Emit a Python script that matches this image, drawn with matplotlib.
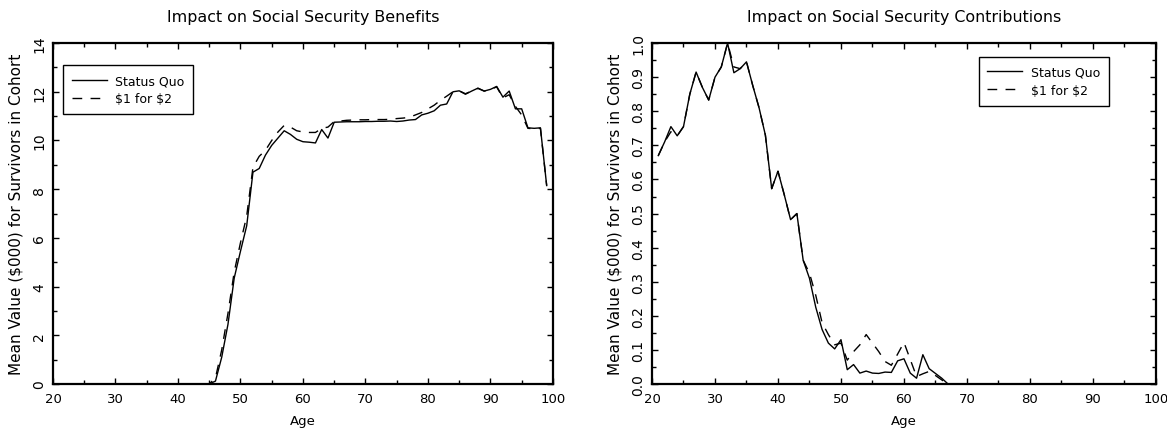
import numpy as np
import matplotlib
matplotlib.use("Agg")
import matplotlib.pyplot as plt
from matplotlib.ticker import MultipleLocator

# mean values ($000) per surviving member of each birth cohort, ages 21..99
ages = np.arange(21, 100)

benefits_sq = [0.0] * 24 + [
    0.0, 0.12, 1.1, 2.45, 4.35, 5.45, 6.5, 8.7, 8.85, 9.4,          # 45-54
    9.8, 10.1, 10.4, 10.25, 10.05, 9.95, 9.93, 9.9, 10.45, 10.1,    # 55-64
    10.75, 10.76, 10.77, 10.77, 10.77, 10.78, 10.78, 10.79, 10.79, 10.8,  # 65-74
    10.78, 10.8, 10.84, 10.86, 11.05, 11.12, 11.22, 11.45, 11.5, 12.0,    # 75-84
    12.04, 11.9, 12.03, 12.15, 12.03, 12.1, 12.22, 11.78, 12.03, 11.3,    # 85-94
    11.3, 10.52, 10.5, 10.52, 8.15,                                  # 95-99
]
benefits_alt = [0.0] * 24 + [
    0.0, 0.25, 1.4, 2.9, 4.6, 5.8, 6.9, 8.9, 9.35, 9.6,
    10.0, 10.35, 10.62, 10.55, 10.4, 10.35, 10.33, 10.33, 10.5, 10.55,
    10.78, 10.8, 10.83, 10.84, 10.85, 10.85, 10.86, 10.86, 10.86, 10.87,
    10.9, 10.92, 10.95, 11.05, 11.15, 11.3, 11.45, 11.65, 11.82, 12.0,
    12.04, 11.92, 12.03, 12.14, 12.03, 12.1, 12.2, 11.75, 11.88, 11.4,
    11.05, 10.5, 10.48, 10.5, 8.15,
]

contrib_sq = [
    0.67, 0.71, 0.755, 0.728, 0.755, 0.85, 0.915, 0.87, 0.833,      # 21-29
    0.9, 0.93, 1.0, 0.913, 0.925, 0.945, 0.875, 0.81, 0.73, 0.573,   # 30-39
    0.624, 0.555, 0.482, 0.5, 0.363, 0.31, 0.225, 0.16, 0.12, 0.103, # 40-49
    0.13, 0.042, 0.057, 0.032, 0.038, 0.032, 0.031, 0.035, 0.034, 0.068,  # 50-59
    0.074, 0.032, 0.017, 0.086, 0.045, 0.031, 0.017, 0.0,            # 60-67
] + [0.0] * 32
contrib_alt = [
    0.67, 0.71, 0.74, 0.728, 0.755, 0.85, 0.915, 0.87, 0.833,
    0.9, 0.93, 1.0, 0.93, 0.925, 0.945, 0.875, 0.81, 0.73, 0.573,
    0.624, 0.555, 0.482, 0.5, 0.363, 0.325, 0.26, 0.18, 0.145, 0.115,
    0.12, 0.07, 0.095, 0.115, 0.145, 0.12, 0.095, 0.066, 0.055, 0.088,
    0.122, 0.072, 0.022, 0.03, 0.037, 0.025, 0.012, 0.0,
] + [0.0] * 32

series_labels = ["Status Quo", "$1 for $2"]
titles = ["Impact on Social Security Benefits",
          "Impact on Social Security Contributions"]
ylabel = "Mean Value ($000) for Survivors in Cohort"

plt.rcParams["font.family"] = "DejaVu Sans"
plt.rcParams["font.size"] = 9.5

fig = plt.figure(figsize=(11.67, 4.31), dpi=100)
ax1 = fig.add_axes([0.0454, 0.1067, 0.4284, 0.791])
ax2 = fig.add_axes([0.5587, 0.1067, 0.4318, 0.791])


def esc(s):
    return s.replace("$", r"\$")


def draw(ax, sq, alt, title, ymax, ymajor, yminor, yfmt, legend_loc, anchor):
    ax.plot(ages, sq, color="black", lw=1.0, label=esc(series_labels[0]))
    ax.plot(ages, alt, color="black", lw=1.0, dashes=(7, 6),
            label=esc(series_labels[1]))
    ax.set_xlim(20, 100)
    ax.set_ylim(0, ymax)
    ax.xaxis.set_major_locator(MultipleLocator(10))
    ax.xaxis.set_minor_locator(MultipleLocator(5))
    ax.yaxis.set_major_locator(MultipleLocator(ymajor))
    ax.yaxis.set_minor_locator(MultipleLocator(yminor))
    ax.yaxis.set_major_formatter(plt.FormatStrFormatter(yfmt))
    ax.tick_params(which="both", direction="in", top=True, right=True, width=1.0)
    ax.tick_params(which="major", length=4)
    ax.tick_params(which="minor", length=3)
    ax.tick_params(axis="x", pad=6)
    ax.tick_params(axis="y", pad=5, labelsize=10)
    for lbl in ax.get_yticklabels():
        lbl.set_rotation(90)
        lbl.set_va("center")
    for sp in ax.spines.values():
        sp.set_linewidth(1.6)
    ax.set_title(title, pad=16)
    ax.set_xlabel("Age", labelpad=6)
    ax.set_ylabel(esc(ylabel), labelpad=6, fontsize=11)
    leg = ax.legend(loc=legend_loc, bbox_to_anchor=anchor, fancybox=False,
                    framealpha=1, edgecolor="black", handlelength=2.8,
                    fontsize=9, borderaxespad=0, borderpad=0.7,
                    labelspacing=0.4, handletextpad=0.7)
    leg.get_frame().set_linewidth(1.0)


draw(ax1, benefits_sq, benefits_alt, titles[0], 14, 2, 1, "%d",
     "upper left", (0.02, 0.935))
draw(ax2, contrib_sq, contrib_alt, titles[1], 1.0, 0.1, 0.05, "%.1f",
     "upper right", (0.907, 0.959))

fig.savefig("out.png", dpi=100)
